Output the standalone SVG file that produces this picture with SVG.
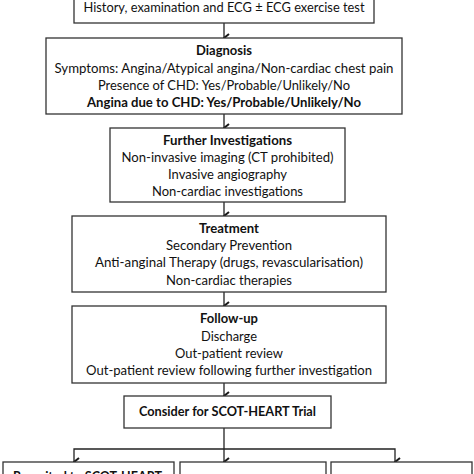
<svg xmlns="http://www.w3.org/2000/svg" width="474" height="474" viewBox="0 0 474 474">
<defs>
<marker id="arr" viewBox="0 0 10 10" refX="5" refY="8.5" markerWidth="10" markerHeight="10" markerUnits="userSpaceOnUse" orient="auto-start-reverse">
<path d="M1,3.5 L5,8.5 L9,3.5" fill="none" stroke="#1a1a1a" stroke-width="2"/>
</marker>
</defs>
<style>
.box{fill:#fff;stroke:#333;stroke-width:1.3}
.t{font-family:Lato,"Open Sans","Liberation Sans",sans-serif;font-size:13.2px;fill:#111;text-anchor:middle}
.b{font-weight:bold}
.c{fill:none;stroke:#222;stroke-width:1.3}
</style>
<rect width="474" height="474" fill="#fff"/>
<g id="connectors">
<line class="c" x1="224" y1="23" x2="224" y2="38" marker-end="url(#arr)"/>
<line class="c" x1="224" y1="114" x2="224" y2="128" marker-end="url(#arr)"/>
<line class="c" x1="224" y1="202" x2="224" y2="216" marker-end="url(#arr)"/>
<line class="c" x1="224" y1="292" x2="224" y2="306" marker-end="url(#arr)"/>
<line class="c" x1="224" y1="383" x2="224" y2="396" marker-end="url(#arr)"/>
<line class="c" x1="224" y1="428" x2="224" y2="462" marker-end="url(#arr)"/>
<polyline class="c" points="74,462 74,449 395,449 395,462" marker-start="url(#arr)" marker-end="url(#arr)"/>
</g>
<g id="history">
<rect class="box" x="74" y="-10" width="300" height="33"/>
<text class="t" x="224" y="12" textLength="281" lengthAdjust="spacingAndGlyphs">History, examination and ECG ± ECG exercise test</text>
</g>
<g id="diagnosis">
<rect class="box" x="46" y="38" width="356" height="76"/>
<text class="t b" x="224" y="55" textLength="56" lengthAdjust="spacingAndGlyphs">Diagnosis</text>
<text class="t" x="224" y="73" textLength="339" lengthAdjust="spacingAndGlyphs">Symptoms: Angina/Atypical angina/Non-cardiac chest pain</text>
<text class="t" x="224" y="90" textLength="252" lengthAdjust="spacingAndGlyphs">Presence of CHD: Yes/Probable/Unlikely/No</text>
<text class="t b" x="224" y="107" textLength="274" lengthAdjust="spacingAndGlyphs">Angina due to CHD: Yes/Probable/Unlikely/No</text>
</g>
<g id="investigations">
<rect class="box" x="110" y="128" width="235" height="74"/>
<text class="t b" x="227.5" y="145" textLength="129" lengthAdjust="spacingAndGlyphs">Further Investigations</text>
<text class="t" x="227.5" y="162" textLength="212" lengthAdjust="spacingAndGlyphs">Non-invasive imaging (CT prohibited)</text>
<text class="t" x="227.5" y="179" textLength="119" lengthAdjust="spacingAndGlyphs">Invasive angiography</text>
<text class="t" x="227.5" y="196" textLength="151" lengthAdjust="spacingAndGlyphs">Non-cardiac investigations</text>
</g>
<g id="treatment">
<rect class="box" x="72" y="216" width="314" height="76"/>
<text class="t b" x="229" y="233" textLength="60" lengthAdjust="spacingAndGlyphs">Treatment</text>
<text class="t" x="229" y="250" textLength="126" lengthAdjust="spacingAndGlyphs">Secondary Prevention</text>
<text class="t" x="229" y="267" textLength="268" lengthAdjust="spacingAndGlyphs">Anti-anginal Therapy (drugs, revascularisation)</text>
<text class="t" x="229" y="285" textLength="126" lengthAdjust="spacingAndGlyphs">Non-cardiac therapies</text>
</g>
<g id="followup">
<rect class="box" x="72" y="306" width="314" height="77"/>
<text class="t b" x="229" y="323" textLength="58" lengthAdjust="spacingAndGlyphs">Follow-up</text>
<text class="t" x="229" y="341" textLength="56" lengthAdjust="spacingAndGlyphs">Discharge</text>
<text class="t" x="229" y="358" textLength="108" lengthAdjust="spacingAndGlyphs">Out-patient review</text>
<text class="t" x="229" y="375" textLength="286" lengthAdjust="spacingAndGlyphs">Out-patient review following further investigation</text>
</g>
<g id="consider">
<rect class="box" x="124" y="396" width="207" height="32"/>
<text class="t b" x="227.5" y="416" textLength="177" lengthAdjust="spacingAndGlyphs">Consider for SCOT-HEART Trial</text>
</g>
<g id="recruited">
<rect class="box" x="3" y="462" width="171" height="30"/>
<text class="t b" x="87.5" y="481" textLength="149" lengthAdjust="spacingAndGlyphs">Recruited to SCOT-HEART</text>
</g>
<g id="middle">
<rect class="box" x="180" y="462" width="146" height="30"/>
</g>
<g id="right">
<rect class="box" x="331" y="462" width="141" height="30"/>
</g>
</svg>
